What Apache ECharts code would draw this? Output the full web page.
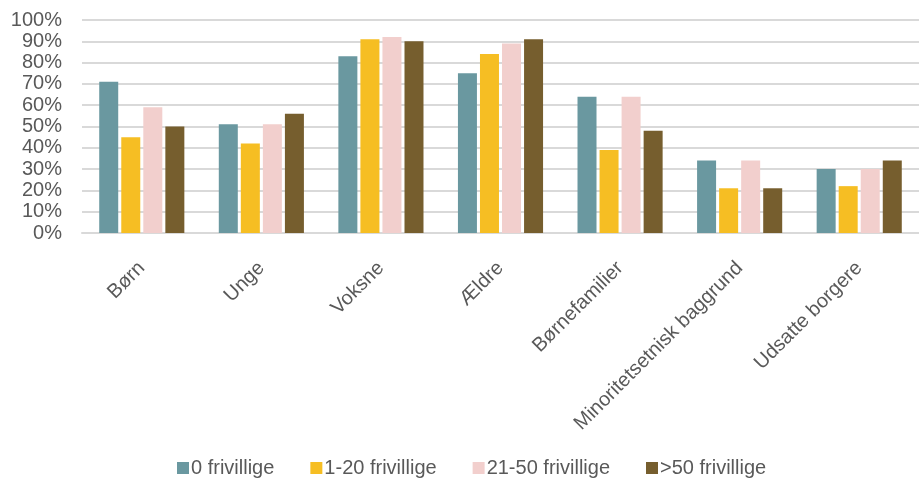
<!DOCTYPE html>
<html>
<head>
<meta charset="utf-8">
<script src="https://cdn.jsdelivr.net/npm/echarts@6/dist/echarts.min.js"></script>
<style>
html,body{margin:0;padding:0;background:#fff;}
#chart{width:919px;height:478px;}
</style>
</head>
<body>
<div id="chart"></div>
<script>
const categories = ["Børn", "Unge", "Voksne", "Ældre", "Børnefamilier", "Minoritetsetnisk baggrund", "Udsatte borgere"];
const seriesNames = ["0 frivillige", "1-20 frivillige", "21-50 frivillige", ">50 frivillige"];
const s0 = [71, 51, 83, 75, 64, 34, 30];
const s1 = [45, 42, 91, 84, 39, 21, 22];
const s2 = [59, 51, 92, 89, 64, 34, 30];
const s3 = [50, 56, 90, 91, 48, 21, 34];
const yTicks = [0, 10, 20, 30, 40, 50, 60, 70, 80, 90, 100];
const colors = ["#6A98A0", "#F6BE23", "#F2CFCD", "#765E2E"];

const font = "Liberation Sans, Arial, sans-serif";
const chart = echarts.init(document.getElementById('chart'), null, {renderer: 'canvas'});
const allData = [s0, s1, s2, s3];
chart.setOption({
  animation: false,
  backgroundColor: '#fff',
  grid: {left: 82, top: 20, width: 842, height: 213, containLabel: false},
  legend: {
    top: 458,
    left: 177,
    padding: 0,
    itemWidth: 12,
    itemHeight: 12,
    itemGap: 36,
    icon: 'rect',
    textStyle: {fontFamily: font, fontSize: 20, color: '#595959', padding: [0, 0, 0, -3]},
    data: seriesNames
  },
  xAxis: {
    type: 'category',
    data: categories,
    axisLine: {show: true, lineStyle: {color: '#D9D9D9', width: 2}},
    axisTick: {show: false},
    axisLabel: {rotate: 45, margin: 32, fontFamily: font, fontSize: 20, color: '#595959', interval: 0}
  },
  yAxis: {
    type: 'value',
    min: yTicks[0],
    max: yTicks[yTicks.length - 1],
    interval: 10,
    axisLine: {show: false},
    axisTick: {show: false},
    splitLine: {lineStyle: {color: '#D9D9D9', width: 2}},
    axisLabel: {formatter: '{value}%', fontFamily: font, fontSize: 20, color: '#595959', margin: 20}
  },
  series: seriesNames.map((n, i) => ({
    name: n,
    type: 'bar',
    data: allData[i],
    barWidth: 19,
    barGap: '16%',
    itemStyle: {color: colors[i]}
  }))
});
</script>
</body>
</html>
